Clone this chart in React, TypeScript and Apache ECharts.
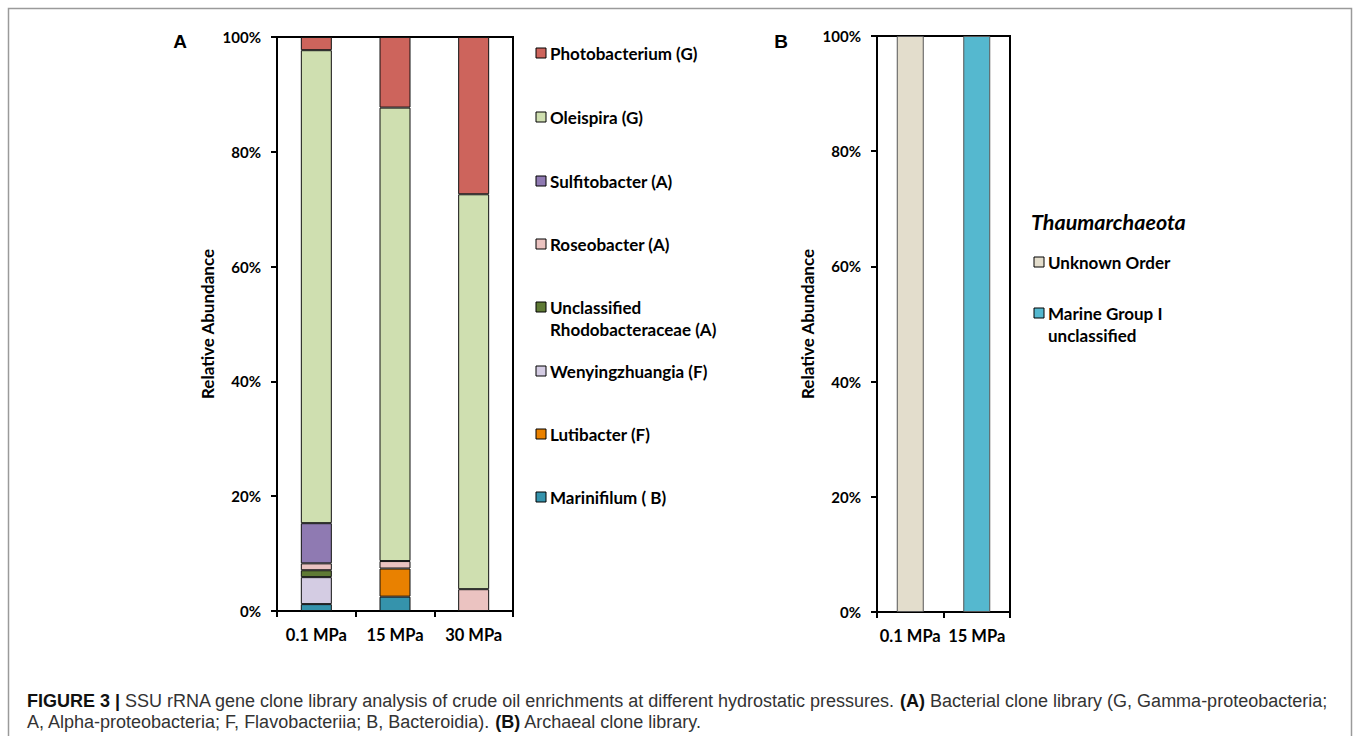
import React, { useEffect, useRef } from 'react';
import * as echarts from 'echarts';

// ---------- data ----------
const categoriesA = ['0.1 MPa', '15 MPa', '30 MPa'];
const categoriesB = ['0.1 MPa', '15 MPa'];

// stacked from bottom to top (percent of clones)
const marinifilum = [1.2, 2.5, 0];
const lutibacter = [0, 4.9, 0];
const wenyingzhuangia = [4.7, 0, 0];
const unclassifiedRhodobacteraceae = [1.2, 0, 0];
const roseobacter = [1.2, 1.3, 3.8];
const sulfitobacter = [7.0, 0, 0];
const oleispira = [82.4, 79.0, 68.8];
const photobacterium = [2.3, 12.3, 27.4];

const seriesNamesA = [
  'Marinifilum ( B)',
  'Lutibacter (F)',
  'Wenyingzhuangia (F)',
  'Unclassified Rhodobacteraceae (A)',
  'Roseobacter (A)',
  'Sulfitobacter (A)',
  'Oleispira (G)',
  'Photobacterium (G)',
];
const legendLabelsA = [
  'Marinifilum ( B)',
  'Lutibacter (F)',
  'Wenyingzhuangia (F)',
  'Unclassified\nRhodobacteraceae (A)',
  'Roseobacter (A)',
  'Sulfitobacter (A)',
  'Oleispira (G)',
  'Photobacterium (G)',
];
const seriesValuesA = [
  marinifilum,
  lutibacter,
  wenyingzhuangia,
  unclassifiedRhodobacteraceae,
  roseobacter,
  sulfitobacter,
  oleispira,
  photobacterium,
];
const colorsA = ['#3593AC', '#E98100', '#D4CCE3', '#5F7A35', '#EBC3C1', '#8F7AB2', '#CFDFB0', '#CD645C'];

const unknownOrder = [100, 0];
const marineGroupI = [0, 100];
const seriesNamesB = ['Unknown Order', 'Marine Group I unclassified'];
const legendLabelsB = ['Unknown Order', 'Marine Group I\nunclassified'];
const seriesValuesB = [unknownOrder, marineGroupI];
const colorsB = ['#E3DDCC', '#55B8CF'];
const groupTitleB = 'Thaumarchaeota';

const yAxisName = 'Relative Abundance';
const captionLine1 =
  '{b|FIGURE 3 |} SSU rRNA gene clone library analysis of crude oil enrichments at different hydrostatic pressures. {b|(A)} Bacterial clone library (G, Gamma-proteobacteria;';
const captionLine2 =
  'A, Alpha-proteobacteria; F, Flavobacteriia; B, Bacteroidia). {b|(B)} Archaeal clone library.';

// ---------- styling ----------
const FONT = 'Lato, "Open Sans", sans-serif';
const CAPTION_FONT = '"Liberation Sans", Arial, sans-serif';

const gridA = { left: 277, top: 37, width: 236, height: 574 };
const gridB = { left: 877, top: 36, width: 133, height: 576 };

function yAxisFor(gridIndex: number) {
  return {
    type: 'value',
    gridIndex,
    min: 0,
    max: 100,
    interval: 20,
    name: yAxisName,
    nameLocation: 'middle',
    nameGap: 61,
    nameTextStyle: { fontFamily: FONT, fontWeight: 'bold', fontSize: 17, color: '#000' },
    axisLine: { show: true, lineStyle: { color: '#000', width: 2 } },
    axisTick: { show: true, inside: false, length: 6, lineStyle: { color: '#000', width: 2 } },
    axisLabel: {
      formatter: '{value}%',
      fontFamily: FONT,
      fontWeight: 'bold',
      fontSize: 15,
      color: '#000',
      margin: 16,
    },
    splitLine: { show: false },
  };
}

function xAxisFor(gridIndex: number, data: string[]) {
  return {
    type: 'category',
    gridIndex,
    data,
    axisLine: { show: true, lineStyle: { color: '#000', width: 2 } },
    axisTick: { show: true, alignWithLabel: false, length: 6, lineStyle: { color: '#000', width: 2 } },
    axisLabel: {
      interval: 0,
      hideOverlap: false,
      fontFamily: FONT,
      fontWeight: 'bold',
      fontSize: 16.5,
      color: '#000',
      margin: 15,
    },
  };
}

function legendGraphics(
  labels: string[],
  colors: string[],
  x: number,
  ys: number[],
) {
  const out: any[] = [];
  labels.forEach((label, i) => {
    out.push({
      type: 'rect',
      shape: { x, y: ys[i] - 5, width: 10, height: 10 },
      style: { fill: colors[i], stroke: '#000', lineWidth: 1 },
    });
    out.push({
      type: 'text',
      x: x + 14,
      y: ys[i] - 11,
      style: {
        text: label,
        font: `bold 17px ${FONT}`,
        fill: '#000',
        align: 'left',
        verticalAlign: 'top',
        lineHeight: 22,
      },
    });
  });
  return out;
}

export default function App() {
  const ref = useRef<HTMLDivElement>(null);

  useEffect(() => {
    if (!ref.current) return;
    const chart = echarts.init(ref.current, undefined, { renderer: 'svg' });

    const seriesA = seriesValuesA.map((vals, i) => ({
      name: seriesNamesA[i],
      type: 'bar',
      stack: 'A',
      xAxisIndex: 0,
      yAxisIndex: 0,
      barWidth: 31,
      itemStyle: { color: colorsA[i], borderColor: '#111', borderWidth: 1 },
      data: vals.map((v) => (v === 0 ? '-' : v)),
    }));
    const seriesB = seriesValuesB.map((vals, i) => ({
      name: seriesNamesB[i],
      type: 'bar',
      stack: 'B',
      xAxisIndex: 1,
      yAxisIndex: 1,
      barWidth: 27,
      itemStyle: { color: colorsB[i], borderColor: '#555', borderWidth: 1 },
      data: vals.map((v) => (v === 0 ? '-' : v)),
    }));

    // legend order top-to-bottom is reverse of stacking order
    const legendAYs = [497, 434, 371, 307, 244, 181, 117, 53];
    const legendBYs = [262, 313];

    chart.setOption({
      animation: false,
      backgroundColor: '#fff',
      grid: [
        { ...gridA, show: true, borderColor: '#000', borderWidth: 2, backgroundColor: 'transparent', containLabel: false },
        { ...gridB, show: true, borderColor: '#000', borderWidth: 2, backgroundColor: 'transparent', containLabel: false },
      ],
      xAxis: [xAxisFor(0, categoriesA), xAxisFor(1, categoriesB)],
      yAxis: [yAxisFor(0), yAxisFor(1)],
      series: [...seriesA, ...seriesB],
      graphic: [
        {
          type: 'rect',
          shape: { x: 8.5, y: 8.5, width: 1343, height: 760 },
          style: { fill: 'none', stroke: '#9a9a9a', lineWidth: 1.5 },
        },
        {
          type: 'text',
          x: 180,
          y: 41,
          style: { text: 'A', font: 'bold 19px "Liberation Sans", Arial, sans-serif', fill: '#000', align: 'center', verticalAlign: 'middle' },
        },
        {
          type: 'text',
          x: 781,
          y: 41,
          style: { text: 'B', font: 'bold 19px "Liberation Sans", Arial, sans-serif', fill: '#000', align: 'center', verticalAlign: 'middle' },
        },
        ...legendGraphics(legendLabelsA, colorsA, 536, legendAYs),
        {
          type: 'text',
          x: 1031,
          y: 222,
          style: { text: groupTitleB, font: `italic bold 21.5px ${FONT}`, fill: '#000', align: 'left', verticalAlign: 'middle' },
        },
        ...legendGraphics(legendLabelsB, colorsB, 1034, legendBYs),
        {
          type: 'text',
          x: 27,
          y: 701,
          style: {
            text: captionLine1,
            font: `18px ${CAPTION_FONT}`,
            fill: '#333',
            align: 'left',
            verticalAlign: 'middle',
            rich: { b: { fontWeight: 'bold', fontFamily: CAPTION_FONT, fontSize: 18, fill: '#111' } },
          },
        },
        {
          type: 'text',
          x: 27,
          y: 722,
          style: {
            text: captionLine2,
            font: `18px ${CAPTION_FONT}`,
            fill: '#333',
            align: 'left',
            verticalAlign: 'middle',
            rich: { b: { fontWeight: 'bold', fontFamily: CAPTION_FONT, fontSize: 18, fill: '#111' } },
          },
        },
      ],
    });

    return () => chart.dispose();
  }, []);

  return (
    <div
      ref={ref}
      style={{ position: 'absolute', left: 0, top: 0, width: 1358, height: 736, background: '#fff' }}
    />
  );
}
